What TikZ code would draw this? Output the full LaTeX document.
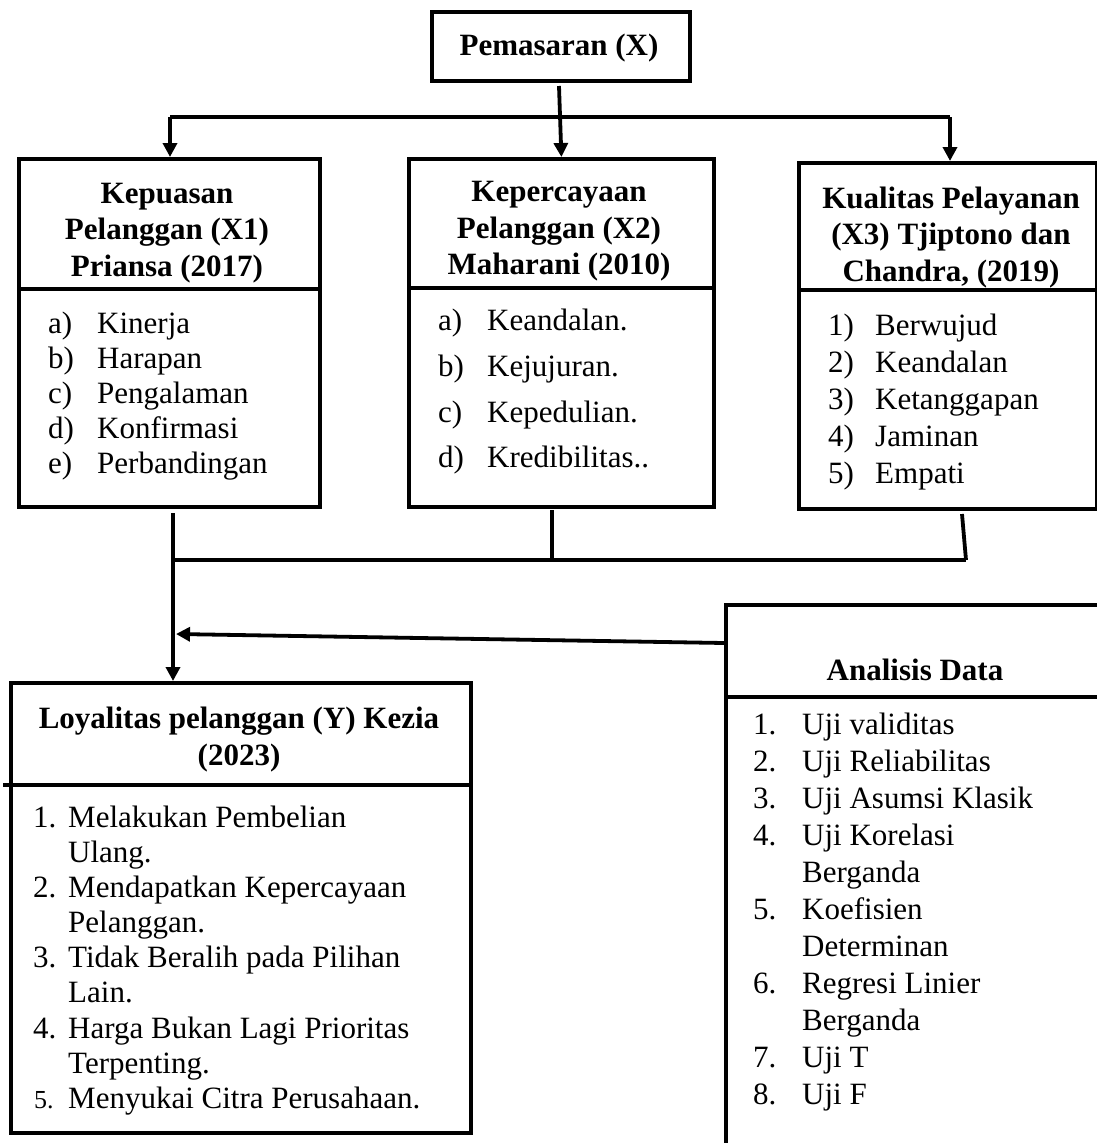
\documentclass[tikz,border=0pt]{standalone}
\usepackage{fontspec}
\setmainfont{Liberation Serif}
\usetikzlibrary{arrows.meta}
\begin{document}
\begin{tikzpicture}[x=1pt,y=-1pt,
  box/.style={draw, line width=3.8pt, rectangle, inner sep=0pt, anchor=north west},
  conn/.style={line width=3.8pt},
  arr/.style={conn, -{Triangle[length=14pt,width=14pt]}},
  hd/.style={font=\fontsize{31}{35}\selectfont\bfseries, anchor=base, inner sep=0pt},
  tx/.style={font=\fontsize{31}{35}\selectfont, anchor=base west, inner sep=0pt}]
\clip (0,0) rectangle (1097,1143);
\fill[white] (0,0) rectangle (1097,1143);

% ---------- boxes ----------
\node[box, minimum width=258, minimum height=69] (top) at (430,10) {};
\node[box, minimum width=301, minimum height=348] (x1) at (17,157) {};
\node[box, minimum width=305, minimum height=348] (x2) at (407,157) {};
\node[box, minimum width=298, minimum height=346] (x3) at (797,161) {};
\node[box, minimum width=460, minimum height=450] (loy) at (9,681) {};
\node[box, minimum width=420, minimum height=600] (ana) at (724,603) {};

% header dividers
\draw[conn] (17,289) -- (318,289);
\draw[conn] (407,288) -- (712,288);
\draw[conn] (797,290) -- (1095,290);
\draw[conn] (3,785) -- (469,785);
\draw[conn] (724,697) -- (1144,697);

% ---------- headings ----------
\node[hd] (tt) at (559,55) {Pemasaran (X)};

\node[hd] (h1a) at (167,203) {Kepuasan};
\node[hd] (h1b) at (167,239) {Pelanggan (X1)};
\node[hd] (h1c) at (167,276) {Priansa (2017)};

\node[hd] (h2a) at (559,201) {Kepercayaan};
\node[hd] (h2b) at (559,238) {Pelanggan (X2)};
\node[hd] (h2c) at (559,274) {Maharani (2010)};

\node[hd] (h3a) at (951,208) {Kualitas Pelayanan};
\node[hd] (h3b) at (951,244) {(X3) Tjiptono dan};
\node[hd] (h3c) at (951,281) {Chandra, (2019)};

\node[hd] (hla) at (239,728) {Loyalitas pelanggan (Y) Kezia};
\node[hd] (hlb) at (239,765) {(2023)};

\node[hd] (hana) at (915,680) {Analisis Data};

% ---------- lists ----------
\foreach \n/\t/\y [count=\i] in {a)/Kinerja/333, b)/Harapan/368, c)/Pengalaman/403, d)/Konfirmasi/438, e)/Perbandingan/473}{
  \node[tx] (l1n\i) at (48,\y) {\n};
  \node[tx] (l1t\i) at (97,\y) {\t};
}
\foreach \n/\t/\y [count=\i] in {a)/Keandalan./330, b)/Kejujuran./376, c)/Kepedulian./422, d)/Kredibilitas../467}{
  \node[tx] (l2n\i) at (438,\y) {\n};
  \node[tx] (l2t\i) at (487,\y) {\t};
}
\foreach \n/\t/\y [count=\i] in {1)/Berwujud/335, 2)/Keandalan/372, 3)/Ketanggapan/409, 4)/Jaminan/446, 5)/Empati/483}{
  \node[tx] (l3n\i) at (828,\y) {\n};
  \node[tx] (l3t\i) at (875,\y) {\t};
}

% Loyalitas list
\node[tx] (y1n) at (33,827) {1.};
\node[tx] (y1a) at (68,827) {Melakukan Pembelian};
\node[tx] (y1b) at (68,862) {Ulang.};
\node[tx] (y2n) at (33,897) {2.};
\node[tx] (y2a) at (68,897) {Mendapatkan Kepercayaan};
\node[tx] (y2b) at (68,932) {Pelanggan.};
\node[tx] (y3n) at (33,967) {3.};
\node[tx] (y3a) at (68,967) {Tidak Beralih pada Pilihan};
\node[tx] (y3b) at (68,1002) {Lain.};
\node[tx] (y4n) at (33,1038) {4.};
\node[tx] (y4a) at (68,1038) {Harga Bukan Lagi Prioritas};
\node[tx] (y4b) at (68,1073) {Terpenting.};
\node[tx, font=\fontsize{26}{30}\selectfont] (y5n) at (34,1108) {5.};
\node[tx] (y5a) at (68,1108) {Menyukai Citra Perusahaan.};

% Analisis list
\node[tx] (a1n) at (753,734) {1.};
\node[tx] (a1t) at (802,734) {Uji validitas};
\node[tx] (a2n) at (753,771) {2.};
\node[tx] (a2t) at (802,771) {Uji Reliabilitas};
\node[tx] (a3n) at (753,808) {3.};
\node[tx] (a3t) at (802,808) {Uji Asumsi Klasik};
\node[tx] (a4n) at (753,845) {4.};
\node[tx] (a4t) at (802,845) {Uji Korelasi};
\node[tx] (a4b) at (802,882) {Berganda};
\node[tx] (a5n) at (753,919) {5.};
\node[tx] (a5t) at (802,919) {Koefisien};
\node[tx] (a5b) at (802,956) {Determinan};
\node[tx] (a6n) at (753,993) {6.};
\node[tx] (a6t) at (802,993) {Regresi Linier};
\node[tx] (a6b) at (802,1030) {Berganda};
\node[tx] (a7n) at (753,1067) {7.};
\node[tx] (a7t) at (802,1067) {Uji T};
\node[tx] (a8n) at (753,1104) {8.};
\node[tx] (a8t) at (802,1104) {Uji F};

% ---------- connectors ----------
\coordinate (s0) at (559,86);
\coordinate (h1) at (170,117);
\coordinate (h3) at (950,117);
\draw[arr] (s0) -- (x2.north);
\draw[conn] (h1) -- (h3);
\draw[arr] (h1) -- (h1 |- x1.north);
\draw[arr] (h3) -- (h3 |- x3.north);

\coordinate (b1) at (173,513);
\coordinate (b2) at (552,510);
\coordinate (b3) at (962,514);
\coordinate (j1) at (173,560);
\coordinate (j2) at (552,560);
\coordinate (j3) at (966,560);
\draw[conn] (j1) -- (j3);
\draw[conn] (b2) -- (j2);
\draw[conn] (b3) -- (j3);
\draw[arr] (b1) -- (j1 |- loy.north);

\coordinate (a0) at (724,643);
\coordinate (a1) at (176,634);
\draw[arr] (a0) -- (a1);
\end{tikzpicture}
\end{document}
